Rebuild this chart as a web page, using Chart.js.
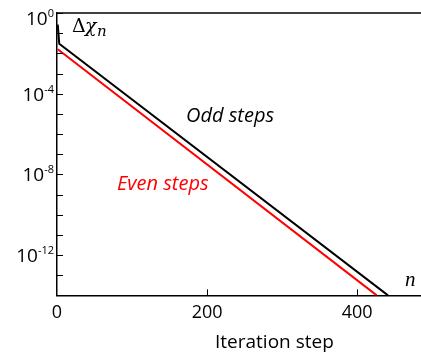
<!DOCTYPE html>
<html>
<head>
<meta charset="utf-8">
<script src="https://cdn.jsdelivr.net/npm/chart.js@4"></script>
<style>
  html, body { margin: 0; padding: 0; background: #fff; }
  #wrap { width: 421px; height: 354px; }
</style>
</head>
<body>
<div id="wrap"><canvas id="chart"></canvas></div>
<script>
// data
var oddN = [1, 3, 441];
var oddDelta = [0.27, 0.03, 1e-14];
var evenN = [1, 426];
var evenDelta = [0.016, 1e-14];

var xTicks = [0, 200, 400];
var yTickExps = [0, -1, -2, -3, -4, -5, -6, -7, -8, -9, -10, -11, -12, -13, -14];
var yLabelExps = [0, -4, -8, -12];

function pts(xs, ys) {
  return xs.map(function (x, i) { return { x: x, y: ys[i] }; });
}

var deco = {
  id: 'deco',
  afterDraw: function (chart) {
    var c = chart.ctx, a = chart.chartArea;
    var xs = chart.scales.x, ys = chart.scales.y;
    c.save();
    c.strokeStyle = '#000';
    c.lineWidth = 1.5;
    // top frame
    c.beginPath();
    c.moveTo(a.left, a.top);
    c.lineTo(a.right, a.top);
    c.stroke();
    // inward ticks
    c.lineWidth = 1;
    yTickExps.forEach(function (e) {
      var y = Math.round(ys.getPixelForValue(Math.pow(10, e))) + 0.5;
      c.beginPath();
      c.moveTo(a.left, y);
      c.lineTo(a.left + 6, y);
      c.stroke();
    });
    xTicks.forEach(function (v) {
      if (v === 0) return;
      var x = Math.round(xs.getPixelForValue(v)) + 0.5;
      c.beginPath();
      c.moveTo(x, a.bottom);
      c.lineTo(x, a.bottom - 6);
      c.stroke();
    });
    // y tick labels with superscripts
    c.fillStyle = '#000';
    c.textBaseline = 'alphabetic';
    yLabelExps.forEach(function (e) {
      var y = ys.getPixelForValue(Math.pow(10, e));
      var base = e === 0 ? a.top + 12 : y + 7;
      var sup = String(e);
      c.font = '11px "Open Sans"';
      var sw = c.measureText(sup).width;
      c.textAlign = 'right';
      c.fillText(sup, 54, base - 8);
      c.font = '19px "Open Sans"';
      c.fillText('10', 54 - sw, base);
    });
    // annotations
    c.textAlign = 'left';
    c.font = '19px "DejaVu Serif"';
    c.fillText('\u0394', 72, 32);
    c.font = 'italic 19px "DejaVu Serif"';
    c.fillText('\u03c7', 85, 32);
    c.font = 'italic 15px "DejaVu Serif"';
    c.fillText('n', 97, 36);
    c.font = 'italic 21px "Liberation Serif"';
    c.fillText('n', 405, 286);
    c.font = 'italic 20px "Open Sans"';
    c.fillText('Odd steps', 186, 122);
    c.fillStyle = '#ff0000';
    c.fillText('Even steps', 117, 190);
    c.fillStyle = '#000';
    c.font = '19px "Open Sans"';
    c.fillText('Iteration step', 215, 348);
    c.restore();
  }
};

var ctx = document.getElementById('chart').getContext('2d');
var chart = new Chart(ctx, {
  type: 'line',
  data: {
    datasets: [
      {
        label: 'Odd steps',
        data: pts(oddN, oddDelta),
        borderColor: '#000',
        borderWidth: 2,
        pointRadius: 0,
        tension: 0
      },
      {
        label: 'Even steps',
        data: pts(evenN, evenDelta),
        borderColor: '#ff0000',
        borderWidth: 2,
        pointRadius: 0,
        tension: 0
      }
    ]
  },
  options: {
    responsive: true,
    maintainAspectRatio: false,
    animation: false,
    layout: { padding: { left: 57, top: 13, right: 0, bottom: 23 } },
    plugins: { legend: { display: false }, tooltip: { enabled: false } },
    scales: {
      x: {
        type: 'linear',
        min: 0,
        max: 485,
        afterBuildTicks: function (s) { s.ticks = xTicks.map(function (v) { return { value: v }; }); },
        grid: { display: false, drawTicks: false },
        border: { display: true, color: '#000', width: 1.5 },
        ticks: { color: '#000', font: { family: 'Open Sans', size: 18 }, padding: 7, maxRotation: 0 }
      },
      y: {
        type: 'logarithmic',
        min: 1e-14,
        max: 1,
        afterBuildTicks: function (s) { s.ticks = yTickExps.map(function (e) { return { value: Math.pow(10, e) }; }); },
        grid: { display: false, drawTicks: false },
        border: { display: true, color: '#000', width: 1.5 },
        ticks: { display: false }
      }
    }
  },
  plugins: [deco]
});
</script>
</body>
</html>
